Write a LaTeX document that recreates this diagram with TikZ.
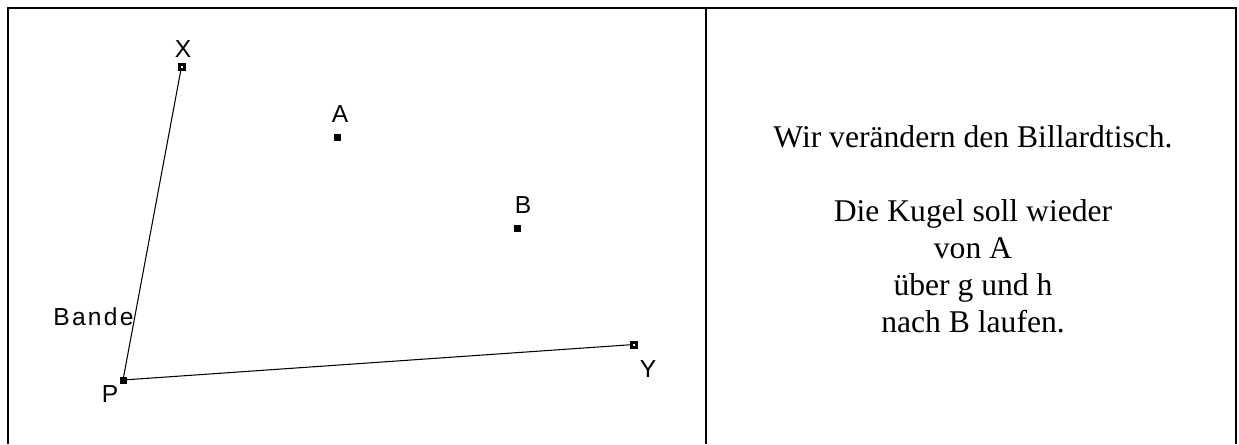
\documentclass[tikz,border=0pt]{standalone}
\usepackage{fontspec}
\setmainfont{Liberation Serif}
\setsansfont{Liberation Sans}
\usetikzlibrary{positioning}

\begin{document}
\begin{tikzpicture}[
    x=0.02cm, y=-0.02cm,
    every node/.style={font=\sffamily\fontsize{14}{16}\selectfont},
    fixpt/.style={rectangle, fill=black, inner sep=0pt,
                  minimum size=0.14cm},
    freept/.style={rectangle, draw=black, fill=white, line width=0.06cm,
                   inner sep=0pt, minimum size=0.1cm},
    ptlabel/.style={anchor=base, inner sep=0pt},
    frame/.style={line width=0.045cm},
    bande/.style={line width=0.6pt},
    note/.style={font=\rmfamily\fontsize{18}{21}\selectfont,
                 align=center, anchor=base},
]
\useasboundingbox (0,0) rectangle (1239,444);

% Frame
\draw[frame] (8,444) -- (8,8) -- (1236,8) -- (1236,444);
\draw[frame] (706,8) -- (706,444);

% Points
\node[fixpt] (p) at (123,380) {};
\node[freept] (x) at (181.5,66.5) {};
\node[freept] (y) at (634,344.5) {};
\node[fixpt] (a) at (337.5,137.5) {};
\node[fixpt] (b) at (517,228) {};

% Bande
\draw[bande] (p.center) -- (x);
\draw[bande] (p.center) -- (y);

% Labels
\node[ptlabel] (xlab) at (183,57) {X};
\node[ptlabel] (alab) at (340,122) {A};
\node[ptlabel] (blab) at (523,213) {B};
\node[ptlabel] (plab) at (110,402) {P};
\node[ptlabel] (ylab) at (648,377) {Y};
\node[ptlabel, anchor=base west] (bandelab) at (53,325)
    {B\kern1.3pt a\kern1.3pt n\kern1.3pt d\kern1.3pt e};

% Text
\node[note] (task) at (973,332) {Wir verändern den Billardtisch.\\[21pt]
    Die Kugel soll wieder\\ von A\\ über g und h\\ nach B laufen.};

\end{tikzpicture}
\end{document}
